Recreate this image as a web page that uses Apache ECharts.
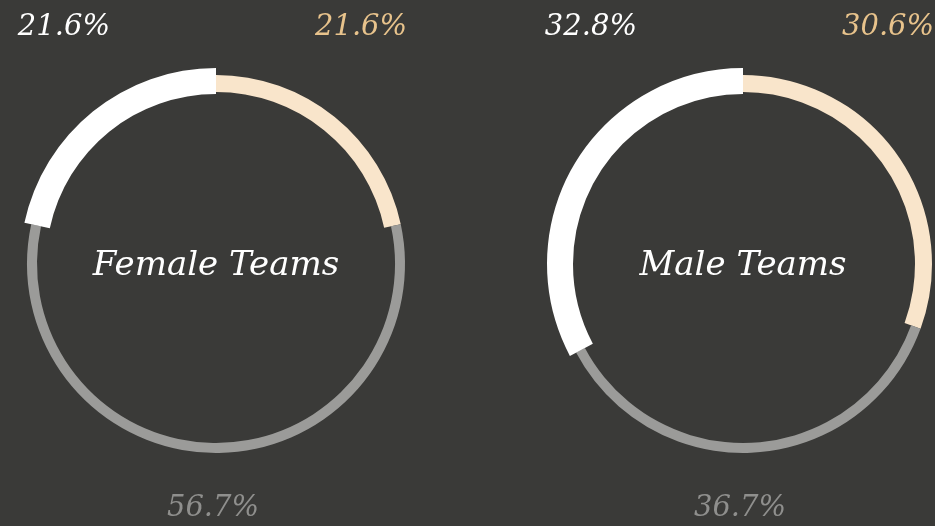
<!DOCTYPE html>
<html>
<head>
<meta charset="utf-8">
<style>
html,body{margin:0;padding:0;background:#3a3a38;}
#chart{width:935px;height:526px;}
</style>
<script src="https://cdn.jsdelivr.net/npm/echarts@6/dist/echarts.min.js"></script>
</head>
<body>
<div id="chart"></div>
<script>
// Data
var groups = ['Female Teams', 'Male Teams'];
var categories = ['beige', 'gray', 'white']; // clockwise order from top
var femaleValues = [21.6, 56.7, 21.6];
var maleValues = [30.6, 36.7, 32.8];
var labelTexts = {
  female: ['21.6%', '56.7%', '21.6%'],
  male: ['30.6%', '36.7%', '32.8%']
};

var colors = ['#f9e5cb', '#9b9b99', '#ffffff'];
var labelColors = ['#e8c38c', '#8f8f8d', '#ffffff'];
var radii = [[172, 189], [179, 189], [170, 196]];
var centers = [[216, 264], [743, 264]];
var fontFam = '"DejaVu Serif", serif';

var chart = echarts.init(document.getElementById('chart'));
var series = [];
var graphics = [];
[femaleValues, maleValues].forEach(function (vals, gi) {
  categories.forEach(function (cat, ci) {
    series.push({
      type: 'pie',
      center: centers[gi],
      radius: radii[ci],
      startAngle: 90,
      clockwise: true,
      silent: true,
      animation: false,
      label: { show: false },
      labelLine: { show: false },
      itemStyle: { borderWidth: 0 },
      data: vals.map(function (v, k) {
        return { value: v, name: categories[k],
          itemStyle: { color: k === ci ? colors[k] : 'rgba(0,0,0,0)' } };
      })
    });
  });
  var cx = centers[gi][0], cy = centers[gi][1];
  var texts = gi === 0 ? labelTexts.female : labelTexts.male;
  graphics.push({ type: 'text', left: cx - 106 - 200, top: 10, style: {
    text: texts[2], width: 200, align: 'right', fill: labelColors[2],
    font: 'italic 29px ' + fontFam } , z: 10});
  graphics.push({ type: 'text', x: cx + 99, y: 27, style: {
    text: texts[0], align: 'left', verticalAlign: 'middle', fill: labelColors[0],
    font: 'italic 29px ' + fontFam }, z: 10 });
  graphics.push({ type: 'text', x: cx - 3, y: 508, style: {
    text: texts[1], align: 'center', verticalAlign: 'middle', fill: labelColors[1],
    font: 'italic 29px ' + fontFam }, z: 10 });
  graphics.push({ type: 'text', x: cx, y: 266, style: {
    text: groups[gi], align: 'center', verticalAlign: 'middle', fill: '#ffffff',
    font: 'italic 34px ' + fontFam }, z: 10 });
});
// fix first label positions to use x/y consistently
graphics.forEach(function (g) {
  if (g.left !== undefined) {
    g.x = g.left + 200; g.y = 27; delete g.left; delete g.top;
    g.style.verticalAlign = 'middle'; delete g.style.width;
  }
});

chart.setOption({
  backgroundColor: '#3a3a38',
  animation: false,
  series: series,
  graphic: graphics
});
</script>
</body>
</html>
